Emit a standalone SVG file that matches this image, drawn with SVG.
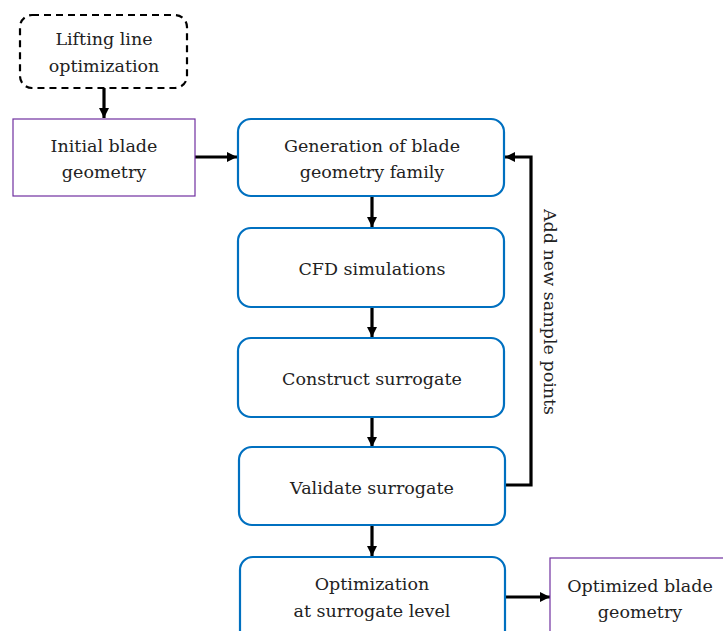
<svg xmlns="http://www.w3.org/2000/svg" width="723" height="631" viewBox="0 0 723 631">
<defs>
<marker id="ah" viewBox="0 0 10 10" refX="10" refY="5" markerWidth="10" markerHeight="10" markerUnits="userSpaceOnUse" orient="auto">
<path d="M0,0 L10,5 L0,10 Z" fill="#000"/>
</marker>
<style>
.t{font-family:"DejaVu Serif","Liberation Serif",serif;font-size:17.5px;fill:#222;text-anchor:middle}
.blue{fill:#fff;stroke:#0070C0;stroke-width:2.2}
.purple{fill:#fff;stroke:#7030A0;stroke-width:1.2}
.dash{fill:#fff;stroke:#000;stroke-width:2.2;stroke-dasharray:7,5}
.c{fill:none;stroke:#000;stroke-width:3.2}
</style>
</defs>
<rect width="723" height="631" fill="#fff"/>
<g id="connectors">
<line class="c" x1="104" y1="88" x2="104" y2="118" marker-end="url(#ah)"/>
<line class="c" x1="195" y1="157" x2="237" y2="157" marker-end="url(#ah)"/>
<line class="c" x1="372" y1="196" x2="372" y2="227" marker-end="url(#ah)"/>
<line class="c" x1="372" y1="307" x2="372" y2="337" marker-end="url(#ah)"/>
<line class="c" x1="372" y1="417" x2="372" y2="447" marker-end="url(#ah)"/>
<line class="c" x1="372" y1="525" x2="372" y2="556" marker-end="url(#ah)"/>
<line class="c" x1="505" y1="597" x2="550" y2="597" marker-end="url(#ah)"/>
<polyline class="c" points="505,485 531,485 531,157 505,157" marker-end="url(#ah)"/>
<text class="t" transform="translate(544,312) rotate(90)">Add new sample points</text>
</g>
<g id="lifting">
<rect class="dash" x="20" y="15" width="167" height="73" rx="12"/>
<text class="t" x="104" y="45">Lifting line</text>
<text class="t" x="104" y="72">optimization</text>
</g>
<g id="initial">
<rect class="purple" x="13" y="119" width="182" height="77"/>
<text class="t" x="104" y="152">Initial blade</text>
<text class="t" x="104" y="178">geometry</text>
</g>
<g id="generation">
<rect class="blue" x="238" y="119" width="266" height="77" rx="13"/>
<text class="t" x="372" y="152">Generation of blade</text>
<text class="t" x="372" y="178">geometry family</text>
</g>
<g id="cfd">
<rect class="blue" x="238" y="228" width="266" height="79" rx="13"/>
<text class="t" x="372" y="275">CFD simulations</text>
</g>
<g id="construct">
<rect class="blue" x="238" y="338" width="266" height="79" rx="13"/>
<text class="t" x="372" y="385">Construct surrogate</text>
</g>
<g id="validate">
<rect class="blue" x="239" y="447" width="266" height="78" rx="13"/>
<text class="t" x="372" y="494">Validate surrogate</text>
</g>
<g id="optimization">
<rect class="blue" x="240" y="557" width="265" height="90" rx="13"/>
<text class="t" x="372" y="590">Optimization</text>
<text class="t" x="372" y="617">at surrogate level</text>
</g>
<g id="optimized">
<rect class="purple" x="550" y="558" width="190" height="90"/>
<text class="t" x="640" y="592">Optimized blade</text>
<text class="t" x="640" y="618">geometry</text>
</g>
</svg>
